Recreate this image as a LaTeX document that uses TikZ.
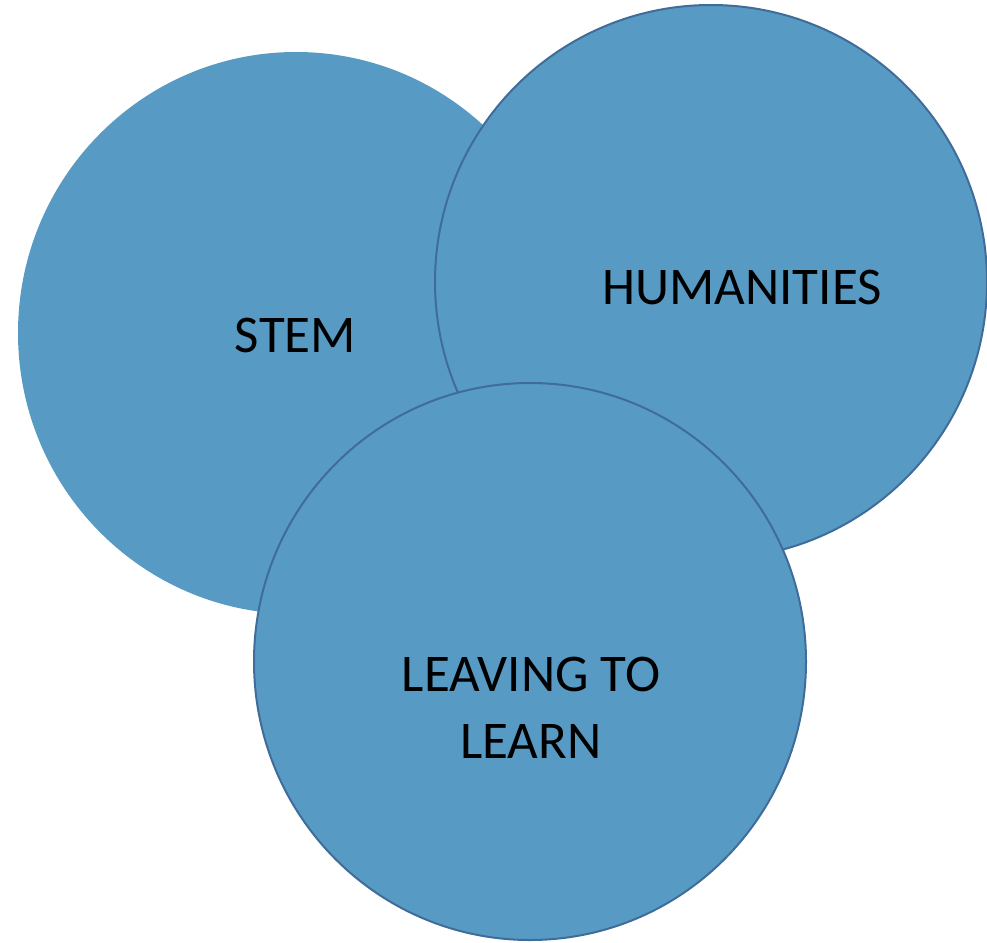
\documentclass[tikz,border=0pt]{standalone}
\usepackage{fontspec}
\setmainfont{Carlito}
\definecolor{fillblue}{HTML}{579BC5}
\definecolor{edgeblue}{HTML}{3F6C98}
\begin{document}
\begin{tikzpicture}[x=1pt,y=-1pt,
  bubble/.style={fill=fillblue},
  bubbleedge/.style={fill=fillblue,draw=edgeblue,line width=2pt},
  lbl/.style={font=\fontsize{53}{67}\selectfont,text=black,align=center,inner sep=0pt}]
\useasboundingbox (0,0) rectangle (987,942);
\fill[bubble] (296,333) ellipse [x radius=278, y radius=281];
\node[lbl] (stem) at (295.5,335) {STEM};
\draw[bubbleedge] (711,282) ellipse [x radius=276, y radius=277];
\node[lbl] (hum) at (742,287) {HUMANITIES};
\draw[bubbleedge] (530,661.5) ellipse [x radius=276, y radius=278.5];
\node[lbl] (ltl) at (531,708) {LEAVING TO\\LEARN};
\end{tikzpicture}
\end{document}
